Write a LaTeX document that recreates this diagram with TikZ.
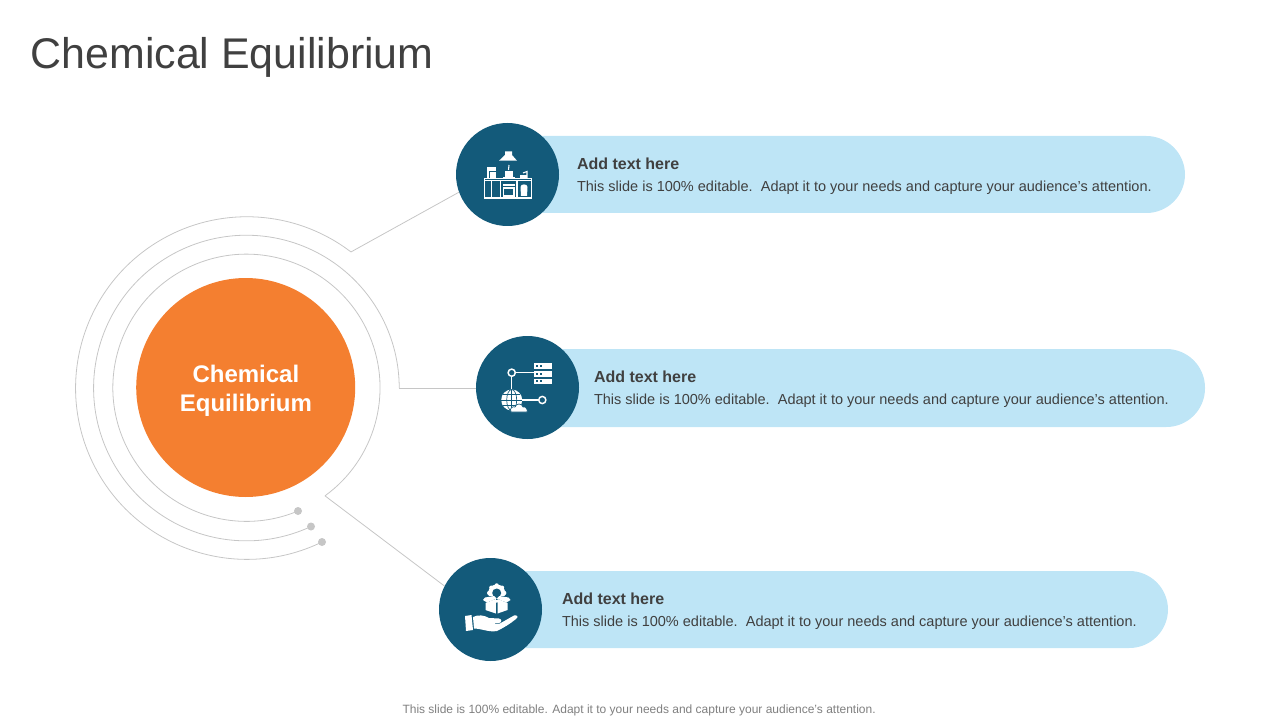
\documentclass[tikz,border=0pt]{standalone}
\usepackage{fontspec}
\setmainfont{Liberation Sans}
\definecolor{pillblue}{HTML}{BEE5F6}
\definecolor{deepblue}{HTML}{135A7A}
\definecolor{hubfill}{HTML}{F47F30}
\definecolor{ringgrey}{HTML}{C6C6C6}
\definecolor{titlegrey}{HTML}{404040}
\definecolor{footgrey}{HTML}{7F7F7F}
\tikzset{every picture/.style={line width=0.75pt}}
\tikzset{
  ringline/.style={draw=ringgrey,line width=0.6pt},
  ringdot/.style={circle,fill=ringgrey,inner sep=0pt,minimum size=6pt},
  badge/.style={circle,fill=deepblue,inner sep=0pt,outer sep=0pt,minimum size=77.25pt},
  pill/.style={fill=pillblue,rounded corners=29pt},
  headtext/.style={anchor=base west,inner sep=0.75pt,font=\fontsize{12}{14}\selectfont\bfseries,text=titlegrey},
  bodytext/.style={anchor=base west,inner sep=0.75pt,font=\fontsize{10.88}{13}\selectfont,text=titlegrey},
  iconline/.style={draw=white,line width=0.8pt},
  iconfill/.style={fill=white},
}
\newcommand{\bodyline}{This slide is 100\% editable.\ \ Adapt it to your needs and capture your audience's attention.}
\begin{document}
\begin{tikzpicture}[x=0.75pt,y=0.75pt,yscale=-1,xscale=1]
\useasboundingbox (0,0) rectangle (1280,720);

% Text Node
\draw (30,69) node [anchor=base west][inner sep=0pt,font=\fontsize{32.2}{36}\selectfont,text=titlegrey] (title) {Chemical Equilibrium};

%Pills
\fill[pill] (500,136) rectangle (1185,213);
\fill[pill] (520,349) rectangle (1205,427);
\fill[pill] (483,571) rectangle (1168,648);

%Shape: Circle
\node[circle,fill=hubfill,inner sep=0pt,minimum size=164.25pt] (hub) at (245.7,387.5) {};
\node[align=center,text=white,font=\fontsize{18}{21.6}\selectfont\bfseries,inner sep=0pt] (hublabel) at (245.9,390.5) {Chemical\\Equilibrium};

%Badges
\node[badge] (kitchen) at (507.5,174.5) {};
\node[badge] (network) at (527.5,387.5) {};
\node[badge] (delivery) at (490.5,609.5) {};

%Ring dots
\node[ringdot] (dota) at (322,542) {};
\node[ringdot] (dotb) at (311,526.5) {};
\node[ringdot] (dotc) at (298,511) {};

%Rings
\draw[ringline] (dota.center) arc (64:307.4:171.3) coordinate (ringa);
\draw[ringline] (dotb.center) arc (65:360:152.8) coordinate (ringb);
\draw[ringline] (dotc.center) arc (67.3:414:133.6) coordinate (ringc);

%Straight Lines
\draw[ringline] (ringa) -- (kitchen.200);
\draw[ringline] (ringb) -- (ringb -| network.west);
\draw[ringline] (ringc) -- (delivery.153);

%Kitchen icon
\fill[iconfill] (505,151.5) -- (512,151.5) -- (512,155) -- (517,160.7) -- (499,160.7) -- (505,155) -- cycle;
\draw[iconline] (509,165) -- (508.5,170);
\draw[iconline] (484.5,178.5) rectangle (531.3,198);
\draw[iconline] (484.5,180.5) -- (531.3,180.5);
\draw[iconline] (500.5,180) -- (500.5,198);
\draw[iconline] (517,180) -- (517,198);
\draw[iconline] (491.5,180) -- (491.5,198);
\fill[iconfill] (487,167.5) rectangle (496,171);
\fill[iconfill] (487,171) rectangle (489,178);
\fill[iconfill] (490,172) rectangle (495.5,178);
\fill[iconfill] (505,171.5) rectangle (512.5,178);
\fill[iconfill] (503,177) rectangle (515,178.5);
\fill[iconfill] (503,184) rectangle (514.5,186.5);
\draw[iconline] (503.5,188) rectangle (514,196);
\draw[iconline] (523,173) -- (527,171.5) -- (527,178);
\fill[iconfill] (520,175.5) rectangle (527,178.5);
\fill[iconfill] (520.5,187) .. controls (520.5,183.5) and (527.5,183.5) .. (527.5,187) -- (527,196) -- (521,196) -- cycle;

%Network icon
\fill[iconfill] (534,363.3) rectangle (552,369.3);
\fill[iconfill] (534,371) rectangle (552,377);
\fill[iconfill] (534,378.5) rectangle (552,384.3);
\foreach \ya in {366.3,374,381.4}{
  \fill[deepblue] (536.2,\ya-1) rectangle (538.4,\ya+1);
  \fill[deepblue] (539.6,\ya-1) rectangle (541.8,\ya+1);
}
\draw[iconline] (515.5,372.7) -- (534,372.7);
\draw[iconline] (511.7,376.5) -- (511.7,390);
\draw[iconline] (520,400) -- (538.5,400);
\draw[iconline,line width=1.1pt] (511.7,372.7) circle (3.6);
\draw[iconline,line width=1.1pt] (542.3,400) circle (3.6);
\fill[iconfill] (511.7,400) circle (10.5);
\draw[deepblue,line width=0.5pt] (511.7,400) ellipse (5 and 10.5);
\draw[deepblue,line width=0.5pt] (511.7,389.5) -- (511.7,410.5);
\draw[deepblue,line width=0.5pt] (501.2,400) -- (522.2,400);
\draw[deepblue,line width=0.5pt] (503,394.5) -- (520.4,394.5);
\draw[deepblue,line width=0.5pt] (503,405.5) -- (520.4,405.5);
\draw[iconfill,draw=deepblue,line width=0.5pt] (511,412) .. controls (509,408) and (513,406) .. (515,407) .. controls (516,403) and (522,403) .. (523,407) .. controls (526,406) and (528,410) .. (527,412) -- cycle;

%Delivery icon
\fill[iconfill] (496.7,593) circle (8.5);
\foreach \ang in {0,45,...,315}{
  \fill[iconfill] (496.7,593) ++(\ang:7.5) circle (2.2);
}
\fill[deepblue] (496.7,593) circle (4.5);
\fill[deepblue] (484,596) rectangle (510,600);
\fill[iconfill] (485.5,603) -- (495.8,599) -- (495.8,613.5) -- (485.5,610) -- cycle;
\fill[iconfill] (507.5,603) -- (497.6,599) -- (497.6,613.5) -- (507.5,610) -- cycle;
\fill[iconfill] (485,597.5) -- (494,596) -- (496.7,598.5) -- (487,602.5) -- (483,600) -- cycle;
\fill[iconfill] (508.5,597.5) -- (499.5,596) -- (496.7,598.5) -- (506.5,602.5) -- (510.5,600) -- cycle;
\fill[iconfill] (465,616) -- (471.5,615) -- (473,630) -- (466,631) -- cycle;
\fill[iconfill] (473,617) .. controls (478,614.5) and (484,615) .. (489,618) -- (499,618.5) .. controls (502,619) and (502,622.5) .. (499,623) -- (491,623.5) -- (499,624) -- (514,615.5) .. controls (517,614.5) and (519,617) .. (516,619) .. controls (510,624) and (503,628) .. (497,631) .. controls (489,632.5) and (481,628.5) .. (474,628.5) -- cycle;

% Text Node
\draw (575.5,169.5) node [headtext] (heada) {Add text here};
\draw (575.5,191.5) node [bodytext] (bodya) {\bodyline};
\draw (592.5,382.5) node [headtext] (headb) {Add text here};
\draw (592.5,404.5) node [bodytext] (bodyb) {\bodyline};
\draw (560.5,604.5) node [headtext] (headc) {Add text here};
\draw (560.5,626.5) node [bodytext] (bodyc) {\bodyline};
\draw (402,713) node [anchor=base west][inner sep=0pt,font=\fontsize{9}{11}\selectfont,text=footgrey] (footer) {This slide is 100\% editable. Adapt it to your needs and capture your audience's attention.};

\end{tikzpicture}
\end{document}
